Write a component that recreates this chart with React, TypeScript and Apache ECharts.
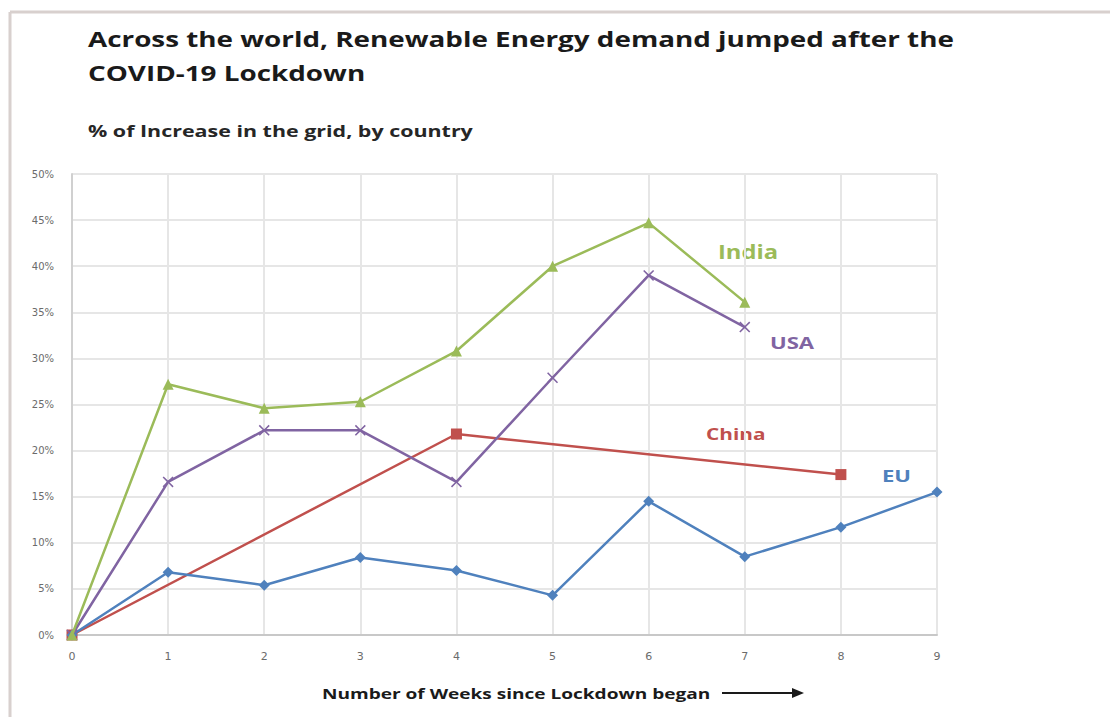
import React, { useEffect, useRef } from "react";
import * as echarts from "echarts";

const weeks = [0, 1, 2, 3, 4, 5, 6, 7, 8, 9];
const indiaValues = [0, 27.2, 24.6, 25.3, 30.8, 40.0, 44.7, 36.1];
const usaValues = [0, 16.6, 22.2, 22.2, 16.6, 27.9, 39.0, 33.4];
const chinaWeeks = [0, 4, 8];
const chinaValues = [0, 21.8, 17.4];
const euValues = [0, 6.8, 5.4, 8.4, 7.0, 4.3, 14.5, 8.5, 11.7, 15.5];
const yTicks = [0, 5, 10, 15, 20, 25, 30, 35, 40, 45, 50];

const titleLine1 = "Across the world, Renewable Energy demand jumped after the";
const titleLine2 = "COVID-19 Lockdown";
const subtitle = "% of Increase in the grid, by country";
const xAxisName = "Number of Weeks since Lockdown began";

const COLORS = { india: "#9BBB59", usa: "#8064A2", china: "#C0504D", eu: "#4F81BD" };
const FONT = "'Open Sans', sans-serif";
const TICK_FONT = "'DejaVu Sans', sans-serif";
const crossPath =
  "path://M0,1 L1,0 L5,4 L9,0 L10,1 L6,5 L10,9 L9,10 L5,6 L1,10 L0,9 L4,5 Z";

function label(text: string, x: number, y: number, size: number, sx: number, fill: string, weight = "bold") {
  return {
    type: "text",
    x,
    y,
    scaleX: sx,
    style: { text, font: `${weight} ${size}px ${FONT}`, fill, textVerticalAlign: "middle", verticalAlign: "middle" },
  };
}

export default function App() {
  const ref = useRef<HTMLDivElement>(null);
  useEffect(() => {
    if (!ref.current) return;
    const chart = echarts.init(ref.current, null, { renderer: "svg" });
    const pair = (xs: number[], ys: number[]) => ys.map((v, i) => [xs[i], v]);
    chart.setOption({
      animation: false,
      backgroundColor: "#ffffff",
      grid: { left: 72, right: 173, top: 174, bottom: 82 },
      xAxis: {
        type: "value",
        min: 0,
        max: 9,
        interval: 1,
        axisLine: { show: true, lineStyle: { color: "#c8c8c8", width: 2 } },
        axisTick: { show: false },
        splitLine: { show: true, lineStyle: { color: "#e6e6e6", width: 2 } },
        axisLabel: { color: "#6b6b6b", fontFamily: TICK_FONT, fontSize: 11, margin: 16 },
      },
      yAxis: {
        type: "value",
        min: 0,
        max: 50,
        interval: 5,
        axisLine: { show: true, lineStyle: { color: "#d0d0d0", width: 2 } },
        axisTick: { show: false },
        splitLine: { show: true, lineStyle: { color: "#e6e6e6", width: 2 } },
        axisLabel: {
          color: "#6b6b6b",
          fontFamily: TICK_FONT,
          fontSize: 10,
          margin: 18,
          formatter: (v: number) => (yTicks.includes(v) ? v + "%" : ""),
        },
      },
      series: [
        {
          name: "China",
          type: "line",
          data: pair(chinaWeeks, chinaValues),
          symbol: "rect",
          symbolSize: 11,
          lineStyle: { color: COLORS.china, width: 2.5 },
          itemStyle: { color: COLORS.china },
          z: 3,
        },
        {
          name: "EU",
          type: "line",
          data: pair(weeks, euValues),
          symbol: "diamond",
          symbolSize: 11,
          lineStyle: { color: COLORS.eu, width: 2.5 },
          itemStyle: { color: COLORS.eu },
          z: 4,
        },
        {
          name: "USA",
          type: "line",
          data: pair(weeks, usaValues),
          symbol: crossPath,
          symbolSize: 11,
          lineStyle: { color: COLORS.usa, width: 2.5 },
          itemStyle: { color: COLORS.usa },
          z: 5,
        },
        {
          name: "India",
          type: "line",
          data: pair(weeks, indiaValues),
          symbol: "triangle",
          symbolSize: 11,
          lineStyle: { color: COLORS.india, width: 2.5 },
          itemStyle: { color: COLORS.india },
          z: 6,
        },
      ],
      graphic: [
        { type: "line", shape: { x1: 10, y1: 12, x2: 1110, y2: 12 }, style: { stroke: "#d8d0ce", lineWidth: 3 } },
        { type: "line", shape: { x1: 10, y1: 12, x2: 10, y2: 717 }, style: { stroke: "#d8d0ce", lineWidth: 3 } },
        label(titleLine1, 88, 38, 22, 1.265, "#1a1a1a"),
        label(titleLine2, 88, 72, 22, 1.265, "#1a1a1a"),
        label(subtitle, 88, 131, 16, 1.34, "#262626"),
        label(xAxisName, 322, 694, 14, 1.36, "#1a1a1a"),
        { type: "line", shape: { x1: 722, y1: 693, x2: 796, y2: 693 }, style: { stroke: "#1a1a1a", lineWidth: 2 } },
        { type: "polygon", shape: { points: [[792, 688], [804, 693], [792, 698]] }, style: { fill: "#1a1a1a" } },
        label("India", 718, 251, 19, 1.25, COLORS.india),
        label("USA", 770, 343, 16, 1.38, COLORS.usa),
        label("China", 706, 434, 16, 1.3, COLORS.china),
        label("EU", 882, 476, 16, 1.38, COLORS.eu),
      ],
    });
    return () => chart.dispose();
  }, []);
  return (
    <div
      ref={ref}
      style={{ position: "fixed", left: 0, top: 0, width: 1110, height: 717 }}
    />
  );
}
